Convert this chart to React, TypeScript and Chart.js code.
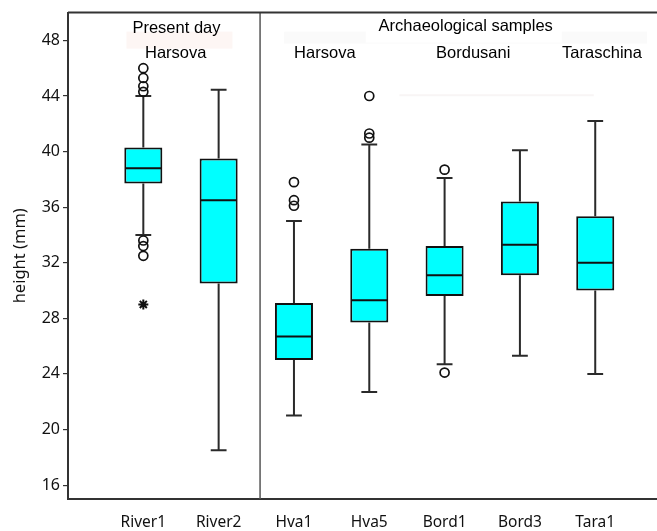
import React, { useEffect, useRef } from 'react';
import { Chart, registerables } from 'chart.js';

Chart.register(...registerables);

// ---- data ----
const categories = ['River1', 'River2', 'Hva1', 'Hva5', 'Bord1', 'Bord3', 'Tara1'];
const whiskerLow = [34.0, 18.5, 21.0, 22.7, 24.7, 25.3, 24.0];
const q1 = [37.7, 30.5, 25.0, 27.7, 29.6, 31.1, 30.0];
const median = [38.8, 36.5, 26.7, 29.3, 31.1, 33.3, 32.0];
const q3 = [40.3, 39.5, 29.1, 33.0, 33.2, 36.4, 35.35];
const whiskerHigh = [44.0, 44.45, 35.0, 40.5, 38.1, 40.1, 42.2];
const outliers: number[][] = [
  [46.0, 45.3, 44.7, 44.3, 33.6, 33.2, 32.5],
  [],
  [37.8, 36.5, 36.1],
  [44.0, 41.3, 41.0],
  [38.7, 24.1],
  [],
  [],
];
const extremes: number[][] = [[29.0], [], [], [], [], [], []];
const yTicks = [16, 20, 24, 28, 32, 36, 40, 44, 48];
const groupTitles = ['Present day', 'Archaeological samples'];
const groupTitlePos = [1.44, 5.28];
const siteNames = ['Harsova', 'Harsova', 'Bordusani', 'Taraschina'];
const sitePos = [1.43, 3.41, 5.38, 7.09];
const dividerAt = 2.55;

const CAP_HALF = 0.105;

const boxPlugin = {
  id: 'boxParts',
  beforeDatasetsDraw(chart: any) {
    const { ctx, chartArea, scales } = chart;
    const x = scales.x;
    const y = scales.y;
    ctx.save();
    // faint scan artefacts behind headers
    const p0 = x.getPixelForValue(groupTitlePos[0]);
    ctx.fillStyle = '#fdf6f4';
    ctx.fillRect(p0 - 50, chartArea.top + 19, 106, 17);
    ctx.fillStyle = '#fafafa';
    const a0 = x.getPixelForValue(dividerAt + 0.32);
    ctx.fillRect(a0, chartArea.top + 19, x.right - 10 - a0, 12);
    const t1 = x.getPixelForValue(groupTitlePos[1]);
    ctx.fillStyle = '#ffffff';
    ctx.fillRect(t1 - 100, chartArea.top + 2, 196, 28);
    ctx.strokeStyle = '#f8f5f5';
    ctx.lineWidth = 2;
    ctx.beginPath();
    ctx.moveTo(x.getPixelForValue(4.4), y.getPixelForValue(44.05));
    ctx.lineTo(x.getPixelForValue(6.98), y.getPixelForValue(44.05));
    ctx.stroke();

    // divider
    const dx = x.getPixelForValue(dividerAt);
    ctx.strokeStyle = '#555';
    ctx.lineWidth = 1.5;
    ctx.beginPath();
    ctx.moveTo(dx, chartArea.top);
    ctx.lineTo(dx, chartArea.bottom);
    ctx.stroke();

    // whiskers
    ctx.strokeStyle = '#2a2a2a';
    ctx.lineWidth = 2;
    categories.forEach((_, i) => {
      const cx = x.getPixelForValue(i + 1);
      const half = x.getPixelForValue(i + 1 + CAP_HALF) - cx;
      const yHi = y.getPixelForValue(whiskerHigh[i]);
      const yLo = y.getPixelForValue(whiskerLow[i]);
      const yQ3 = y.getPixelForValue(q3[i]);
      const yQ1 = y.getPixelForValue(q1[i]);
      ctx.beginPath();
      ctx.moveTo(cx, yHi);
      ctx.lineTo(cx, yQ3);
      ctx.moveTo(cx, yQ1);
      ctx.lineTo(cx, yLo);
      ctx.moveTo(cx - half, yHi);
      ctx.lineTo(cx + half, yHi);
      ctx.moveTo(cx - half, yLo);
      ctx.lineTo(cx + half, yLo);
      ctx.stroke();
    });
    ctx.restore();
  },
  afterDatasetsDraw(chart: any) {
    const { ctx, scales } = chart;
    const y = scales.y;
    const meta = chart.getDatasetMeta(0);
    ctx.save();
    ctx.strokeStyle = '#111';
    ctx.lineWidth = 2;
    meta.data.forEach((bar: any, i: number) => {
      const ym = y.getPixelForValue(median[i]);
      ctx.beginPath();
      ctx.moveTo(bar.x - bar.width / 2 + 1, ym);
      ctx.lineTo(bar.x + bar.width / 2 - 1, ym);
      ctx.stroke();
    });
    ctx.restore();
  },
  afterDraw(chart: any) {
    const { ctx, chartArea, scales } = chart;
    const x = scales.x;
    ctx.save();
    // top frame line
    ctx.strokeStyle = '#333';
    ctx.lineWidth = 2;
    ctx.beginPath();
    ctx.moveTo(chartArea.left, chartArea.top);
    ctx.lineTo(chartArea.right, chartArea.top);
    ctx.stroke();
    // header texts
    ctx.fillStyle = '#000';
    ctx.font = '16.5px "Liberation Sans", Arial, sans-serif';
    ctx.textAlign = 'center';
    ctx.textBaseline = 'alphabetic';
    groupTitles.forEach((t, i) => {
      ctx.fillText(t, x.getPixelForValue(groupTitlePos[i]), chartArea.top + (i === 0 ? 20 : 18.5));
    });
    siteNames.forEach((t, i) => {
      ctx.fillText(t, x.getPixelForValue(sitePos[i]), chartArea.top + 45.5);
    });
    ctx.restore();
  },
};

export default function App() {
  const ref = useRef<HTMLCanvasElement | null>(null);
  useEffect(() => {
    if (!ref.current) return;
    const outlierPts: { x: number; y: number }[] = [];
    outliers.forEach((arr, i) => arr.forEach((v) => outlierPts.push({ x: i + 1, y: v })));
    const extremePts: { x: number; y: number }[] = [];
    extremes.forEach((arr, i) => arr.forEach((v) => extremePts.push({ x: i + 1, y: v })));

    const chart = new Chart(ref.current, {
      type: 'bar',
      data: {
        datasets: [
          {
            type: 'bar',
            data: categories.map((_, i) => ({ x: i + 1, y: [q1[i], q3[i]] })) as any,
            backgroundColor: '#00ffff',
            borderColor: '#111',
            borderWidth: 2,
            borderSkipped: false,
            categoryPercentage: 1,
            barPercentage: 0.505,
            order: 2,
          } as any,
          {
            type: 'scatter',
            data: outlierPts,
            pointStyle: 'circle',
            pointRadius: 4.5,
            pointBorderWidth: 1.7,
            pointBorderColor: '#111',
            pointBackgroundColor: 'rgba(255,255,255,0)',
            order: 1,
          } as any,
          {
            type: 'scatter',
            data: extremePts,
            pointStyle: 'star',
            pointRadius: 5,
            pointBorderWidth: 2,
            pointBorderColor: '#111',
            order: 1,
          } as any,
        ],
      },
      options: {
        responsive: false,
        animation: false,
        layout: { autoPadding: false, padding: { top: 11, left: 0, right: 0, bottom: 0 } },
        plugins: { legend: { display: false }, tooltip: { enabled: false } },
        scales: {
          x: {
            type: 'linear',
            min: 0,
            max: 7.82,
            offset: false,
            grid: { display: false, drawTicks: false, offset: false },
            border: { display: true, color: '#333', width: 2 },
            afterBuildTicks: (scale: any) => {
              scale.ticks = categories.map((_, i) => ({ value: i + 1 }));
            },
            afterFit: (scale: any) => {
              scale.height = 32;
            },
            ticks: {
              autoSkip: false,
              maxRotation: 0,
              padding: 14,
              color: '#111',
              font: { family: '"Noto Sans", sans-serif', size: 15.5 },
              callback: (v: any) => categories[Math.round(Number(v)) - 1] ?? '',
            },
          },
          y: {
            type: 'linear',
            min: 15,
            max: 50,
            grid: { drawOnChartArea: false, drawTicks: true, tickLength: 5, color: '#333', lineWidth: 1.2 },
            border: { display: true, color: '#333', width: 2 },
            afterBuildTicks: (scale: any) => {
              scale.ticks = yTicks.map((v) => ({ value: v }));
            },
            afterFit: (scale: any) => {
              scale.width = 68;
            },
            ticks: {
              padding: 3,
              color: '#111',
              font: { family: '"Noto Sans", sans-serif', size: 16 },
            },
            title: {
              display: true,
              text: 'height (mm)',
              color: '#111',
              padding: { top: 10, bottom: 0 },
              font: { family: '"Noto Sans", sans-serif', size: 16.5 },
            },
          },
        },
      } as any,
      plugins: [boxPlugin],
    });
    return () => chart.destroy();
  }, []);

  return (
    <div style={{ position: 'fixed', left: 0, top: 0, width: 657, height: 531, background: '#fff' }}>
      <canvas ref={ref} width={657} height={531} style={{ display: 'block' }} />
    </div>
  );
}
